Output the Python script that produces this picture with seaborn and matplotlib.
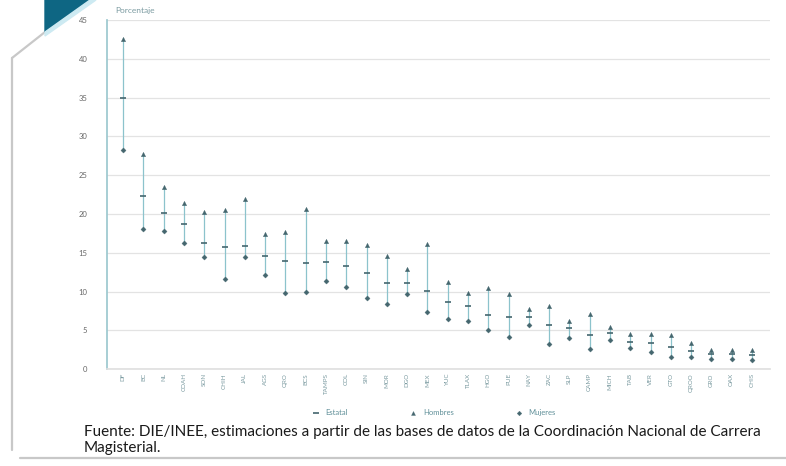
import numpy as np
import pandas as pd
import seaborn as sns
import matplotlib.pyplot as plt
from matplotlib.patches import Polygon
from matplotlib.lines import Line2D

# entidades (orden descendente del promedio estatal)
estados = ["DF", "BC", "NL", "COAH", "SON", "CHIH", "JAL", "AGS", "QRO", "BCS",
           "TAMPS", "COL", "SIN", "MOR", "DGO", "MEX", "YUC", "TLAX", "HGO", "PUE",
           "NAY", "ZAC", "SLP", "CAMP", "MICH", "TAB", "VER", "GTO", "QROO", "GRO",
           "OAX", "CHIS"]

hombres = [42.5, 27.7, 23.5, 21.4, 20.3, 20.5, 21.9, 17.4, 17.7, 20.7,
           16.5, 16.5, 16.0, 14.6, 12.9, 16.1, 11.2, 9.8, 10.4, 9.7,
           7.7, 8.1, 6.2, 7.1, 5.4, 4.5, 4.5, 4.4, 3.4, 2.5,
           2.5, 2.4]
estatal = [35.0, 22.3, 20.1, 18.7, 16.2, 15.8, 15.9, 14.6, 13.9, 13.7,
           13.8, 13.3, 12.4, 11.1, 11.1, 10.1, 8.6, 8.1, 7.0, 6.7,
           6.7, 5.7, 5.3, 4.4, 4.6, 3.5, 3.4, 2.9, 2.3, 1.9,
           1.9, 1.8]
mujeres = [28.3, 18.1, 17.8, 16.2, 14.4, 11.6, 14.4, 12.1, 9.8, 10.0,
           11.4, 10.6, 9.2, 8.4, 9.7, 7.4, 6.5, 6.2, 5.0, 4.1,
           5.7, 3.2, 4.0, 2.6, 3.7, 2.7, 2.2, 1.6, 1.5, 1.3,
           1.3, 1.2]

df = pd.DataFrame({"estado": estados, "Estatal": estatal,
                   "Hombres": hombres, "Mujeres": mujeres})
df["pos"] = np.arange(len(df))

sns.set_theme(style="white")
plt.rcParams["font.family"] = ["Lato", "DejaVu Sans"]

fig = plt.figure(figsize=(7.86, 4.66), dpi=100)
ax = fig.add_axes([0.136, 0.208, 0.844, 0.749])

linea = "#8cc3cc"
punto = "#44666e"

# lineas alto-bajo
hi = df[["Hombres", "Mujeres"]].max(axis=1)
lo = df[["Hombres", "Mujeres"]].min(axis=1)
ax.vlines(df["pos"], lo, hi, color=linea, lw=0.9, zorder=2)

sns.scatterplot(data=df, x="pos", y="Estatal", marker="_", s=22, color=punto,
                linewidth=1.2, ax=ax, zorder=3, label="Estatal")
sns.scatterplot(data=df, x="pos", y="Hombres", marker="^", s=10, color=punto,
                edgecolor=punto, ax=ax, zorder=3, label="Hombres")
sns.scatterplot(data=df, x="pos", y="Mujeres", marker="D", s=7, color=punto,
                edgecolor=punto, ax=ax, zorder=3, label="Mujeres")

ax.set_xlim(-0.8, 31.9)
ax.set_ylim(0, 45)
ax.set_yticks(range(0, 46, 5))
ax.set_xticks(df["pos"])
ax.set_xticklabels(df["estado"], rotation=90, fontsize=4.5, color="#7a9aa0")
ax.tick_params(axis="y", labelsize=5.5, colors="#666666", length=0, pad=14)
ax.tick_params(axis="x", length=0, pad=3)
ax.set_xlabel("")
ax.set_ylabel("")
ax.grid(axis="y", color="#e3e3e3", lw=0.9)
for s in ["top", "right"]:
    ax.spines[s].set_visible(False)
ax.spines["left"].set_color("#9cc8cf")
ax.spines["bottom"].set_color("#e0e0e0")

ax.legend(loc="upper center", bbox_to_anchor=(0.49, -0.095), ncol=3, frameon=False,
          fontsize=5.5, labelcolor="#5f8f98", columnspacing=7.5, handletextpad=0.3,
          markerscale=0.9)

fig.text(115 / 786, 1 - 10 / 466, "Porcentaje", fontsize=6, color="#7a9aa0", va="center")

fig.text(84 / 786, 1 - 440 / 466,
         "Fuente: DIE/INEE, estimaciones a partir de las bases de datos de la Coordinación Nacional de Carrera\nMagisterial.",
         fontsize=11, color="#1a1a1a", va="center", linespacing=1.15)

# marco decorativo
W, H = 786, 466
def fc(x, y):
    return (x / W, 1 - y / H)

fig.add_artist(Polygon([fc(45, 0), fc(90, 0), fc(45, 32)], closed=True,
                       transform=fig.transFigure, color="#0e6683", zorder=5))
fig.add_artist(Polygon([fc(90, 0), fc(96, 0), fc(45, 36), fc(45, 32)], closed=True,
                       transform=fig.transFigure, color="#cdeaf2", zorder=5))
gris = "#c8c8c8"
fig.add_artist(Line2D([12 / W, 45 / W], [1 - 58 / H, 1 - 32 / H],
                      transform=fig.transFigure, color=gris, lw=1.6))
fig.add_artist(Line2D([12 / W, 12 / W], [1 - 58 / H, 1 - 450 / H],
                      transform=fig.transFigure, color=gris, lw=1.6))
fig.add_artist(Line2D([20 / W, 786 / W], [1 - 458 / H, 1 - 458 / H],
                      transform=fig.transFigure, color=gris, lw=1.6))

fig.savefig("out.png", dpi=100)
